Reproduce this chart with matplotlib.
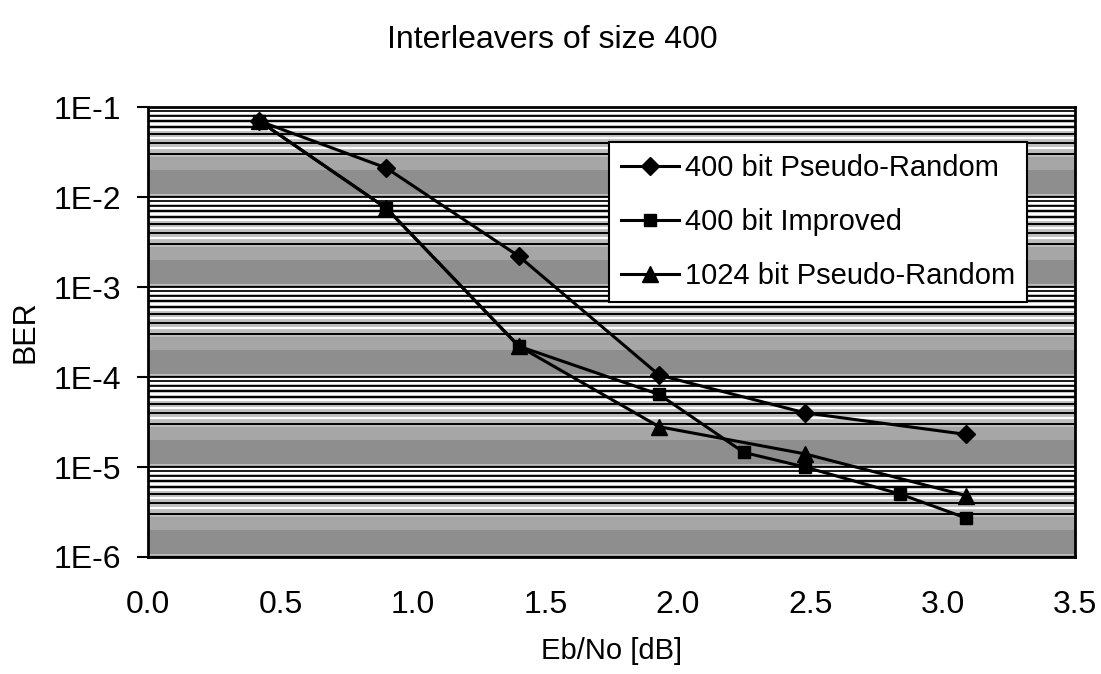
import matplotlib
matplotlib.use('Agg')
from matplotlib import pyplot as plt
from matplotlib.ticker import FixedLocator, LogLocator, NullFormatter

plt.rcParams['font.family'] = ['Liberation Sans', 'DejaVu Sans']

# Eb/No [dB] and BER
x_pr400 = [0.42, 0.90, 1.40, 1.93, 2.48, 3.09]
ber_pr400 = [7.0e-2, 2.1e-2, 2.2e-3, 1.05e-4, 4.0e-5, 2.3e-5]

x_imp400 = [0.42, 0.90, 1.40, 1.93, 2.25, 2.48, 2.84, 3.09]
ber_imp400 = [7.0e-2, 7.5e-3, 2.2e-4, 6.4e-5, 1.45e-5, 1.0e-5, 5.0e-6, 2.7e-6]

x_pr1024 = [0.42, 0.90, 1.40, 1.93, 2.48, 3.09]
ber_pr1024 = [7.0e-2, 7.5e-3, 2.2e-4, 2.8e-5, 1.4e-5, 4.8e-6]

y_ticks = [1e-1, 1e-2, 1e-3, 1e-4, 1e-5, 1e-6]
y_labels = ['1E-1', '1E-2', '1E-3', '1E-4', '1E-5', '1E-6']
x_ticks = [0.0, 0.5, 1.0, 1.5, 2.0, 2.5, 3.0, 3.5]

fig = plt.figure(figsize=(11.01, 6.74), dpi=100)
ax = fig.add_axes([0.1344, 0.1736, 0.8420, 0.6676])
ax.set_facecolor('#bdbdbd')

ax.set_yscale('log')
ax.set_ylim(1e-6, 1e-1)
ax.set_xlim(0, 3.5)

# striped halftone background of the scan: darker band low in each decade,
# black minor grid lines with white lines between them
for dec in y_ticks[1:]:
    ax.axhspan(dec * 1.08, dec * 2.0, color='#8e8e8e', linewidth=0, zorder=0.5)
    ax.axhspan(dec * 2.0, dec * 2.8, color='#a6a6a6', linewidth=0, zorder=0.5)
    for m in [3.5, 4.5, 5.5, 6.5, 7.5, 8.5, 9.5]:
        ax.axhline(dec * m, color='white', linewidth=1.6, zorder=0.8)
ax.yaxis.set_minor_locator(LogLocator(base=10, subs=[3, 4, 5, 6, 7, 8, 9]))
ax.yaxis.set_minor_formatter(NullFormatter())
ax.grid(True, which='minor', axis='y', color='black', linewidth=1.4)
ax.grid(True, which='major', axis='y', color='black', linewidth=1.6)
ax.set_axisbelow(True)
ax.tick_params(axis='y', which='minor', length=0)

lw = 2.2
ms = 10
ax.plot(x_imp400, ber_imp400, color='black', linewidth=lw, marker='s',
        markersize=ms - 1, label='400 bit Improved', zorder=3)
ax.plot(x_pr1024, ber_pr1024, color='black', linewidth=lw, marker='^',
        markersize=ms + 1, label='1024 bit Pseudo-Random', zorder=4)
ax.plot(x_pr400, ber_pr400, color='black', linewidth=lw, marker='D',
        markersize=ms - 1, label='400 bit Pseudo-Random', zorder=5)

ax.yaxis.set_major_locator(FixedLocator(y_ticks))
ax.set_yticklabels(y_labels)
ax.set_xticks(x_ticks)
ax.set_xticklabels(['%.1f' % v for v in x_ticks])
ax.tick_params(axis='y', which='major', length=8, width=1.5, pad=11, labelsize=23)
ax.tick_params(axis='x', length=0, pad=24, labelsize=23)

for s in ax.spines.values():
    s.set_linewidth(2)
    s.set_color('black')
    s.set_zorder(6)

handles, labels = ax.get_legend_handles_labels()
order = [2, 0, 1]
leg = ax.legend([handles[i] for i in order], [labels[i] for i in order],
                loc='upper right', bbox_to_anchor=(0.948, 0.922), borderaxespad=0,
                fontsize=21, frameon=True, fancybox=False, edgecolor='black',
                framealpha=1, handlelength=2.0, handletextpad=0.2,
                labelspacing=0.9, borderpad=0.4)
leg.get_frame().set_linewidth(1.5)
leg.set_zorder(7)

fig.text(552 / 1101, 1 - 40 / 674, 'Interleavers of size 400', fontsize=23,
         ha='center', va='center')
ax.set_xlabel('Eb/No [dB]', fontsize=21, labelpad=12)
ax.set_ylabel('BER', fontsize=22, labelpad=10)

fig.savefig('out.png', dpi=100)
